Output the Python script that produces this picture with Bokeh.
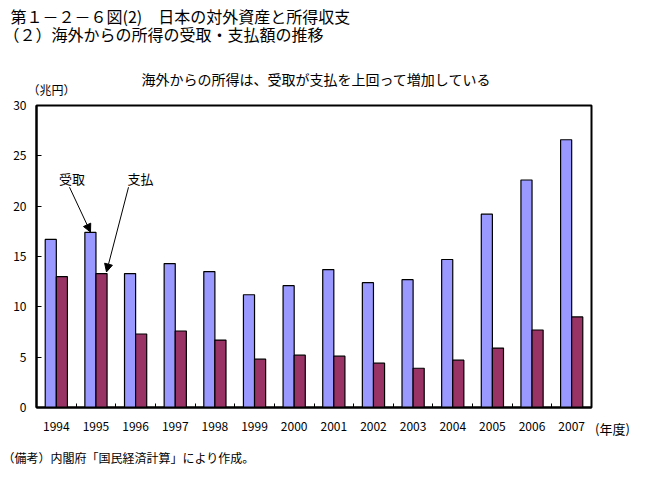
from bokeh.plotting import figure
from bokeh.models import ColumnDataSource, FixedTicker, Label, Arrow, NormalHead, Range1d
from bokeh.layouts import column, row
from bokeh.transform import dodge
from bokeh.embed import file_html
from bokeh.resources import INLINE

years = ["1994", "1995", "1996", "1997", "1998", "1999", "2000",
         "2001", "2002", "2003", "2004", "2005", "2006", "2007"]
receipts = [16.7, 17.4, 13.3, 14.3, 13.5, 11.2, 12.1, 13.7, 12.4, 12.7, 14.7, 19.2, 22.6, 26.6]
payments = [13.0, 13.3, 7.3, 7.6, 6.7, 4.8, 5.2, 5.1, 4.4, 3.9, 4.7, 5.9, 7.7, 9.0]
y_ticks = [0, 5, 10, 15, 20, 25, 30]
unit_label = "(年度)"

FONT = "Noto Sans CJK JP"
TOP_H = 97
MAIN_H = 343
BOT_H = 479 - TOP_H - MAIN_H
MB_TOP = 8
MB_BOT = 32
XSTAND = 14


def blank(w, h):
    return figure(width=w, height=h, output_backend="svg", toolbar_location=None,
                  x_range=Range1d(0, w), y_range=Range1d(h, 0),
                  x_axis_type=None, y_axis_type=None,
                  min_border=0, outline_line_color=None,
                  background_fill_color="white", border_fill_color="white")


def put(f, text, x, y, size, align="left"):
    f.add_layout(Label(x=x, y=y, text=text, text_font=FONT, text_font_size=size,
                       text_align=align, text_baseline="middle", text_color="black"))


# ---- header strip
top = blank(659, TOP_H)
put(top, "第１－２－６図(2)　日本の対外資産と所得収支", 10, 15, "16px")
put(top, "（２）海外からの所得の受取・支払額の推移", 3, 33, "16px")
put(top, "海外からの所得は、受取が支払を上回って増加している", 316, 78, "14px", "center")
put(top, "（兆円）", 27, 88.5, "12px")

# ---- main chart
src = ColumnDataSource(dict(idx=list(range(len(years))), year=years,
                            receipts=receipts, payments=payments))

p = figure(width=593, height=MAIN_H, output_backend="svg", toolbar_location=None,
           x_range=(-0.5, len(years) - 0.5), y_range=(0, 30),
           min_border_left=36, min_border_right=2, min_border_top=MB_TOP,
           min_border_bottom=MB_BOT, background_fill_color="white",
           border_fill_color="white")

p.vbar(x=dodge("idx", -0.14), top="receipts", width=0.28, source=src,
       fill_color="#9999FF", line_color="black", line_width=1.2)
p.vbar(x=dodge("idx", 0.14), top="payments", width=0.28, source=src,
       fill_color="#993366", line_color="black", line_width=1.2)

p.xgrid.visible = False
p.ygrid.visible = False
p.outline_line_color = "black"
p.outline_line_width = 2

p.yaxis.ticker = FixedTicker(ticks=y_ticks)
p.yaxis.major_tick_in = 5
p.yaxis.major_tick_out = 0
p.yaxis.minor_tick_line_color = None
p.yaxis.axis_line_width = 2
p.yaxis.major_label_standoff = 10
p.yaxis.major_label_text_font = FONT
p.yaxis.major_label_text_font_size = "12px"
p.yaxis.major_label_text_color = "black"

p.xaxis.ticker = FixedTicker(ticks=list(range(len(years))),
                             minor_ticks=[i + 0.5 for i in range(len(years) - 1)])
p.xaxis.major_label_overrides = {i: y for i, y in enumerate(years)}
p.xaxis.major_tick_in = 0
p.xaxis.major_tick_out = 0
p.xaxis.minor_tick_in = 4
p.xaxis.minor_tick_out = 0
p.xaxis.minor_tick_line_width = 1
p.xaxis.axis_line_width = 2
p.xaxis.major_label_standoff = XSTAND
p.xaxis.major_label_text_font = FONT
p.xaxis.major_label_text_font_size = "12px"
p.xaxis.major_label_text_color = "black"


def px_x(px):
    return (px - 36) / (555 / len(years)) - 0.5


def px_y(py):
    return (408 - py) / (303 / 30)


for txt, cx in (("受取", 71.5), ("支払", 140)):
    p.add_layout(Label(x=px_x(cx), y=px_y(178), text=txt, text_font=FONT,
                       text_font_size="13px", text_align="center",
                       text_baseline="middle", text_color="black"))

p.add_layout(Arrow(end=NormalHead(size=8, fill_color="black", line_color="black"),
                   x_start=px_x(69), y_start=px_y(187),
                   x_end=px_x(90), y_end=px_y(232), line_width=1))
p.add_layout(Arrow(end=NormalHead(size=8, fill_color="black", line_color="black"),
                   x_start=px_x(128), y_start=px_y(187),
                   x_end=px_x(106), y_end=px_y(272), line_width=1))

# ---- right strip: unit label placed as a tick label aligned with the year labels
side = figure(width=66, height=MAIN_H, output_backend="svg", toolbar_location=None,
              x_range=Range1d(0, 66), y_range=Range1d(0, 1), y_axis_type=None,
              min_border_left=0, min_border_right=0, min_border_top=MB_TOP,
              min_border_bottom=MB_BOT, outline_line_color=None,
              background_fill_color="white", border_fill_color="white")
side.xgrid.visible = False
side.xaxis.ticker = FixedTicker(ticks=[19])
side.xaxis.major_label_overrides = {19: unit_label}
side.xaxis.axis_line_color = None
side.xaxis.major_tick_line_color = None
side.xaxis.minor_tick_line_color = None
side.xaxis.major_tick_in = 0
side.xaxis.major_tick_out = 0
side.xaxis.major_label_standoff = XSTAND - 3
side.xaxis.major_label_text_font = FONT
side.xaxis.major_label_text_font_size = "13px"
side.xaxis.major_label_text_color = "black"

# ---- footer strip
bottom = blank(659, BOT_H)
put(bottom, "（備考）内閣府「国民経済計算」により作成。", 2, 17, "12px")

layout = column(top, row(p, side), bottom)
open("out.html", "w").write(file_html(layout, INLINE))
